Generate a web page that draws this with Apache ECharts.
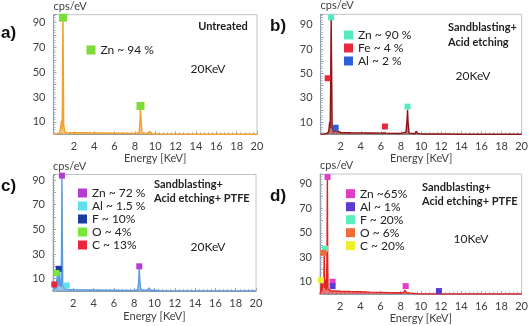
<!DOCTYPE html>
<html>
<head>
<meta charset="utf-8">
<script src="https://cdn.jsdelivr.net/npm/echarts@6/dist/echarts.min.js"></script>
<style>
  html, body { margin: 0; padding: 0; background: #fff; }
  #chart { width: 531px; height: 326px; }
</style>
</head>
<body>
<div id="chart"></div>
<script>
// tick labels
const yLabels = [10, 30, 50, 70, 90];
const xLabels = [2, 4, 6, 8, 10, 12, 14, 16, 18, 20];

// a) untreated
const energyA = [0, 0.3, 0.6, 0.75, 0.8, 0.85, 0.88, 0.9, 0.93, 0.96, 1.0, 1.1, 1.4, 2, 3, 4, 5, 6, 7, 8, 8.4, 8.5, 8.55, 8.6, 8.7, 9.3, 9.42, 9.48, 9.55, 9.7, 10.5, 12, 14, 16, 18, 20];
const countsA = [0, 0.3, 0.8, 1.5, 11, 4, 30, 70, 96.4, 60, 8, 2, 1.5, 1.3, 1.2, 1.1, 1, 0.9, 0.8, 0.7, 1.2, 10, 21, 12, 1, 0.5, 2.5, 3, 1, 0.3, 0.2, 0.15, 0.1, 0.1, 0.1, 0.1];
const peaksA = { 'Zn ~ 94 %': [[0.93, 94], [8.55, 22.8]] };

// b) sandblasting + acid etching
const energyB = [0, 0.3, 0.6, 0.8, 0.9, 0.95, 1.0, 1.05, 1.1, 1.15, 1.3, 1.45, 1.5, 1.55, 2, 3, 4, 5, 6, 6.3, 6.4, 6.5, 7, 8, 8.5, 8.6, 8.65, 8.7, 8.8, 9.4, 9.5, 9.55, 9.65, 10, 12, 14, 16, 18, 20];
const countsB = [0, 0.3, 0.8, 2, 10, 5, 40, 98, 50, 6, 2, 2, 3, 1.5, 1.5, 1.3, 1.2, 1.1, 1, 1.2, 2.5, 1, 0.8, 0.7, 2, 12, 20, 10, 1, 0.5, 2.5, 3, 0.8, 0.3, 0.2, 0.1, 0.1, 0.1, 0.1];
const peaksB = {
  'Zn ~ 90 %': [[1.05, 96], [8.65, 22.7]],
  'Fe ~ 4 %': [[0.7, 46], [6.4, 6.4]],
  'Al ~ 2 %': [[1.5, 5.4]]
};

// c) sandblasting + acid etching + PTFE, 20 keV
const energyC = [0, 0.1, 0.15, 0.2, 0.25, 0.3, 0.4, 0.45, 0.5, 0.55, 0.58, 0.62, 0.66, 0.72, 0.76, 0.8, 0.84, 0.88, 0.92, 0.96, 1.1, 1.3, 1.38, 1.45, 1.6, 2, 3, 4, 5, 6, 7, 8, 8.35, 8.45, 8.5, 8.55, 8.65, 9.3, 9.42, 9.48, 9.55, 9.7, 10.5, 12, 14, 16, 18, 20];
const countsC = [0, 0.5, 3, 5, 1.5, 1, 2, 14, 4, 3, 10, 17, 4, 3, 10, 3, 30, 94.5, 40, 5, 2, 1.5, 3, 1.5, 1.2, 1, 0.9, 0.8, 0.7, 0.6, 0.5, 0.5, 1, 8, 18, 9, 1, 0.5, 2, 2.5, 0.8, 0.3, 0.2, 0.1, 0.1, 0.1, 0.1, 0.1];
const peaksC = {
  'Zn ~ 72 %': [[0.88, 93.6], [8.5, 20]],
  'Al ~ 1.5 %': [[1.35, 4.5]],
  'F ~ 10%': [[0.56, 18]],
  'O ~ 4%': [[0.36, 14.6]],
  'C ~ 13%': [[0.13, 5.3]]
};

// d) sandblasting + acid etching + PTFE, 10 keV
const energyD = [0, 0.08, 0.12, 0.16, 0.3, 0.38, 0.42, 0.46, 0.52, 0.56, 0.6, 0.65, 0.7, 0.73, 0.76, 0.8, 0.9, 1.1, 1.2, 1.25, 1.3, 1.5, 2, 3, 4, 5, 6, 7, 8, 8.3, 8.42, 8.5, 8.6, 9, 9.5, 9.7, 10, 20];
const countsD = [0, 2, 9, 2, 3, 12, 31, 5, 4, 12, 3, 6, 40, 97, 30, 4, 3, 2.5, 3, 3.5, 2.5, 2.5, 2.3, 2, 1.8, 1.5, 1.3, 1.1, 1, 1.2, 3, 3.5, 1, 0.7, 0.4, 0.1, 0, 0];
const peaksD = {
  'Zn ~65%': [[0.75, 95.5], [1.25, 10], [8.5, 6.4]],
  'Al ~ 1%': [[1.25, 6.4], [11.8, 2.4]],
  'F ~ 20%': [[0.5, 37]],
  'O ~ 6%': [[0.33, 33.6]],
  'C ~ 20%': [[0.1, 11.3]]
};

const FONT = 'Lato, "Liberation Sans", sans-serif';

const panels = [
  { e: energyA, c: countsA, peaks: peaksA, line: '#f2a030', colors: ['#7ddc3a'], size: 8,
    grid: { left: 53.5, top: 14.7, width: 203.5, height: 119.6 }, ymax: 96.4, nameGap: 18,
    legend: { left: 81.5, top: 39 } },
  { e: energyB, c: countsB, peaks: peaksB, line: '#8e1616', colors: ['#56e8c0', '#e8283c', '#2f5fd8'], size: 6,
    grid: { left: 320.6, top: 14.3, width: 203.9, height: 120 }, ymax: 98.5, nameGap: 18,
    legend: { left: 339, top: 24 } },
  { e: energyC, c: countsC, peaks: peaksC, line: '#5a9be0', colors: ['#b43cd2', '#5ee0ee', '#1a3c9c', '#7ae83a', '#e8283a'], size: 6,
    grid: { left: 53, top: 174.5, width: 203, height: 116.5 }, ymax: 94.5, nameGap: 20,
    legend: { left: 73, top: 182 } },
  { e: energyD, c: countsD, peaks: peaksD, line: '#e02424', colors: ['#e03cc8', '#5a3ad0', '#5aeec0', '#f06a3a', '#eeee2a'], size: 6,
    grid: { left: 320, top: 174, width: 202, height: 120 }, ymax: 98, nameGap: 19,
    legend: { left: 341, top: 182.7 } }
];

let chart = echarts.init(document.getElementById('chart'));

const grids = [], xAxes = [], yAxes = [], series = [], legends = [];
panels.forEach((p, i) => {
  grids.push(Object.assign({ show: true, borderColor: '#bcc6ce', borderWidth: 1 }, p.grid));
  xAxes.push({
    type: 'value', gridIndex: i, min: 0, max: 20, interval: 2,
    name: 'Energy [KeV]', nameLocation: 'middle', nameGap: p.nameGap,
    nameTextStyle: { fontSize: 11, color: '#404040', fontFamily: FONT },
    axisLine: { lineStyle: { color: '#8c9aa6' } },
    axisTick: { show: true, inside: true, length: 3, lineStyle: { color: '#9aa6b0' } },
    minorTick: { show: true, splitNumber: 5, length: 2, lineStyle: { color: '#a8b2ba' } },
    splitLine: { show: false },
    axisLabel: {
      margin: 7, fontSize: 11, color: '#404040', fontFamily: FONT,
      formatter: v => (xLabels.includes(v) ? String(v) : '')
    }
  });
  yAxes.push({
    type: 'value', gridIndex: i, min: 0, max: p.ymax, interval: 10,
    name: 'cps/eV', nameLocation: 'end', nameGap: 3,
    nameTextStyle: { fontSize: 11, color: '#404040', align: 'left', fontFamily: FONT },
    axisLine: { show: true, lineStyle: { color: '#8c9aa6' } },
    axisTick: { show: true, inside: true, length: 3, lineStyle: { color: '#9aa6b0' } },
    minorTick: { show: true, splitNumber: 5, length: 2, lineStyle: { color: '#a8b2ba' } },
    splitLine: { show: false },
    axisLabel: {
      margin: 8, fontSize: 11, color: '#404040', fontFamily: FONT,
      formatter: v => (yLabels.includes(v) ? String(v) : '')
    }
  });
  series.push({
    type: 'line', xAxisIndex: i, yAxisIndex: i, symbol: 'none', silent: true,
    data: p.e.map((x, k) => [x, p.c[k]]),
    lineStyle: { color: p.line, width: 1.4 },
    areaStyle: { color: p.line, opacity: 0.6 },
    z: 2
  });
  const names = Object.keys(p.peaks);
  names.forEach((name, k) => {
    series.push({
      name: name, type: 'scatter', xAxisIndex: i, yAxisIndex: i,
      symbol: 'rect', symbolSize: p.size,
      itemStyle: { color: p.colors[k], opacity: 1 },
      data: p.peaks[name], z: 5
    });
  });
  legends.push({
    orient: 'vertical', left: p.legend.left, top: p.legend.top,
    itemWidth: 9, itemHeight: 9, itemGap: 1, selectedMode: false,
    textStyle: { fontSize: 12, color: '#222', fontFamily: FONT },
    data: names.map(n => ({ name: n, icon: 'rect' }))
  });
});

function txt(x, y, s, opt) {
  return {
    type: 'text', x: x, y: y, silent: true,
    style: Object.assign({ text: s, fill: '#222', font: '12px ' + FONT, textVerticalAlign: 'middle', textAlign: 'left' }, opt || {})
  };
}
const bold = 'bold 11px ' + FONT;
const panelFont = 'bold 17px Arial, "Liberation Sans", sans-serif';

const option = {
  animation: false,
  backgroundColor: '#fff',
  grid: grids,
  xAxis: xAxes,
  yAxis: yAxes,
  legend: legends,
  series: series,
  graphic: [
    txt(1, 33, 'a)', { font: panelFont, fill: '#111' }),
    txt(270, 26, 'b)', { font: panelFont, fill: '#111' }),
    txt(1, 186, 'c)', { font: panelFont, fill: '#111' }),
    txt(270, 196, 'd)', { font: panelFont, fill: '#111' }),
    txt(223, 26, 'Untreated', { font: bold, textAlign: 'center' }),
    txt(208, 69, '20KeV', { textAlign: 'center' }),
    txt(448, 27, 'Sandblasting+', { font: bold }),
    txt(448, 42, 'Acid etching', { font: bold }),
    txt(473, 76, '20KeV', { textAlign: 'center' }),
    txt(154, 184.7, 'Sandblasting+', { font: bold }),
    txt(154, 198.5, 'Acid etching+ PTFE', { font: bold }),
    txt(208, 247, '20KeV', { textAlign: 'center' }),
    txt(422, 187, 'Sandblasting+', { font: bold }),
    txt(422, 201, 'Acid etching+ PTFE', { font: bold }),
    txt(471, 239, '10KeV', { textAlign: 'center' })
  ]
};
chart.setOption(option);
window.addEventListener('resize', () => {
  chart.resize();
});
</script>
</body>
</html>
